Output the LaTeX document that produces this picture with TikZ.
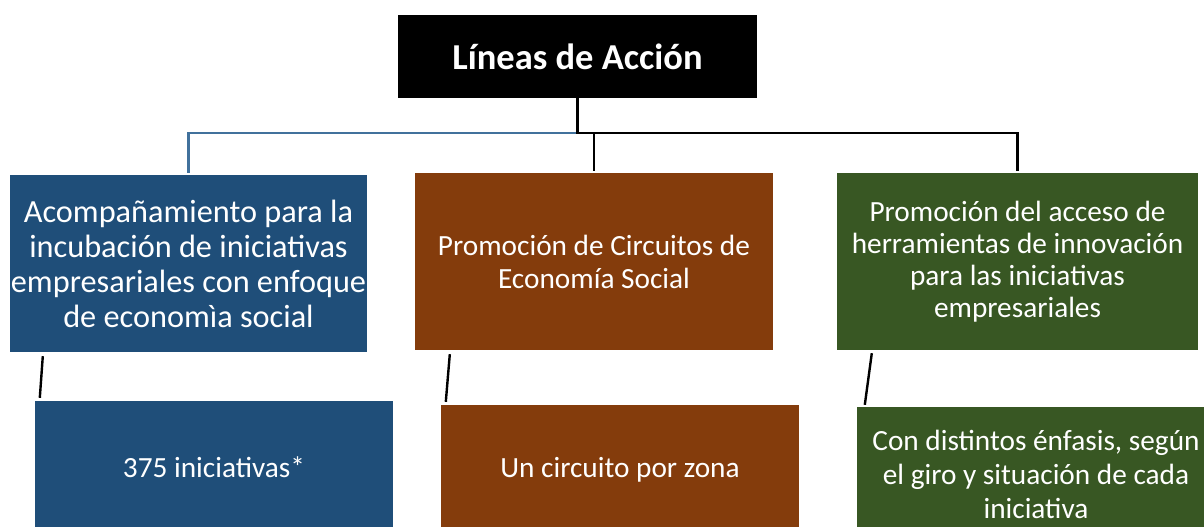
\documentclass[tikz,border=0pt]{standalone}
\usepackage{fontspec}
\setmainfont{Carlito}
\usetikzlibrary{positioning}

\definecolor{boxblue}{RGB}{31,78,121}
\definecolor{boxbrown}{RGB}{132,60,12}
\definecolor{boxgreen}{RGB}{56,87,35}
\definecolor{linkblue}{RGB}{65,113,156}

\begin{document}
\begin{tikzpicture}[
    x=1pt, y=-1pt,
    every node/.style={text=white, align=center, inner sep=0pt},
    title/.style={rectangle, fill=black, minimum width=359pt, minimum height=83pt, font=\fontsize{36.5}{40}\selectfont\bfseries},
    accion/.style={rectangle, minimum width=358pt, minimum height=177pt, font=\fontsize{29.3}{33}\selectfont},
    meta/.style={rectangle, minimum width=358pt, minimum height=132pt, font=\fontsize{29.3}{34}\selectfont},
    link/.style={line width=2.4pt, black},
    bluelink/.style={line width=2.4pt, linkblue},
]
\useasboundingbox (0,0) rectangle (1204,527);

% Title
\node[title] (lineas) at (577.5,56.5) {Líneas de Acción};

% Lines of action
\node[accion, fill=boxblue, minimum width=357pt, font=\fontsize{32.3}{35}\selectfont] (acomp) at (188.5,263.5) {Acompañamiento para la\\ incubación de iniciativas\\ empresariales con enfoque\\ de economìa social};
\node[accion, fill=boxbrown] (circuitos) at (594,261.5) {Promoción de Circuitos de\\ Economía Social};
\node[accion, fill=boxgreen, minimum width=361pt, font=\fontsize{29.3}{32}\selectfont] (herram) at (1017.5,261.5) {Promoción del acceso de\\ herramientas de innovación\\ para las iniciativas\\ empresariales};

% Goals
\node[meta, fill=boxblue] (inic) at (214,467) {375 iniciativas*};
\node[meta, fill=boxbrown, minimum height=130pt] (circuito) at (620,470) {Un circuito por zona};
\node[meta, fill=boxgreen, minimum height=134pt] (enfasis) at (1036,474) {Con distintos énfasis, según\\ el giro y situación de cada\\ iniciativa};

% Tree connectors
\coordinate (bus) at (577.5,133);
\draw[bluelink] (bus) -| ([yshift=2pt]acomp.north);
\draw[link] (lineas.south) -- (bus) -| ([yshift=2pt]herram.north);
\draw[link] (bus -| circuitos.north) -- ([yshift=2pt]circuitos.north);

% Goal connectors
\draw[link] ([xshift=33pt, yshift=-4pt]acomp.south west) -- ([xshift=5pt, yshift=3pt]inic.north west);
\draw[link] ([xshift=35pt, yshift=-4pt]circuitos.south west) -- ([xshift=5pt, yshift=3pt]circuito.north west);
\draw[link] ([xshift=35pt, yshift=-3pt]herram.south west) -- ([xshift=8pt, yshift=2pt]enfasis.north west);

\end{tikzpicture}
\end{document}
